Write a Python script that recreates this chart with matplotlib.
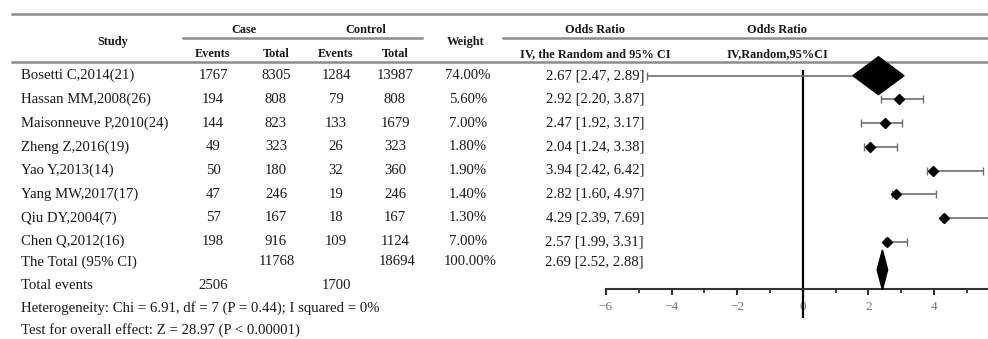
import matplotlib
matplotlib.use("Agg")
import matplotlib.pyplot as plt
from matplotlib.ticker import MultipleLocator

plt.rcParams['font.family'] = ['Liberation Serif', 'DejaVu Serif']

# ---------------- data ----------------
studies = ["Bosetti C,2014(21)", "Hassan MM,2008(26)", "Maisonneuve P,2010(24)",
           "Zheng Z,2016(19)", "Yao Y,2013(14)", "Yang MW,2017(17)",
           "Qiu DY,2004(7)", "Chen Q,2012(16)"]
case_events = [1767, 194, 144, 49, 50, 47, 57, 198]
case_total = [8305, 808, 823, 323, 180, 246, 167, 916]
ctrl_events = [1284, 79, 133, 26, 32, 19, 18, 109]
ctrl_total = [13987, 808, 1679, 323, 360, 246, 167, 1124]
weights = ["74.00%", "5.60%", "7.00%", "1.80%", "1.90%", "1.40%", "1.30%", "7.00%"]
or_est = [2.67, 2.92, 2.47, 2.04, 3.94, 2.82, 4.29, 2.57]
or_lo = [2.47, 2.20, 1.92, 1.24, 2.42, 1.60, 2.39, 1.99]
or_hi = [2.89, 3.87, 3.17, 3.38, 6.42, 4.97, 7.69, 3.31]

# positions of marks as drawn in the picture (plot scale)
plot_est = [2.31, 2.95, 2.51, 2.05, 3.96, 2.84, 4.31, 2.58]
plot_lo = [-4.74, 2.38, 1.78, 1.87, 3.78, 2.71, 4.24, 2.51]
plot_hi = [2.89, 3.66, 3.04, 2.87, 5.49, 4.06, 7.69, 3.17]

total_label = "The Total (95% CI)"
total_case_total = 11768
total_ctrl_total = 18694
total_weight = "100.00%"
total_or = (2.69, 2.52, 2.88)
total_plot = 2.43
total_plot_halfwidth = 0.16
total_case_events = 2506
total_ctrl_events = 1700
heterogeneity = "Heterogeneity: Chi = 6.91, df = 7 (P = 0.44); I squared = 0%"
overall = "Test for overall effect: Z = 28.97 (P < 0.00001)"
tick_values = [-6, -4, -2, 0, 2, 4]

# ---------------- figure ----------------
W, H = 988, 339
fig = plt.figure(figsize=(W / 100, H / 100), dpi=100)
tab = fig.add_axes([0, 0, 1, 1])
tab.set_xlim(0, W)
tab.set_ylim(H, 0)
tab.axis('off')

txt = '#1a1a1a'
rule = '#8c8c8c'
fs = 10.6
hfs = 8.8

# header rules
tab.plot([12, W], [14, 14], color=rule, lw=1.8)
tab.plot([183, 422], [38, 38], color=rule, lw=1.8)
tab.plot([503, W], [38, 38], color=rule, lw=1.8)
tab.plot([12, W], [62, 62], color=rule, lw=1.8)

# headers
hk = dict(fontsize=hfs, fontweight='bold', ha='center', va='center', color=txt)
tab.text(113, 42, "Study", **hk)
tab.text(244, 30, "Case", **hk)
tab.text(366, 30, "Control", **hk)
tab.text(213, 54, "Events", **hk)
tab.text(276, 54, "Total", **hk)
tab.text(336, 54, "Events", **hk)
tab.text(395, 54, "Total", **hk)
tab.text(466, 42, "Weight", **hk)
tab.text(595, 30, "Odds Ratio", **hk)
tab.text(777, 30, "Odds Ratio", **hk)
tab.text(595, 54, "IV, the Random and 95% CI", **hk)
tab.text(777, 54, "IV,Random,95%CI", **hk)

row0, dy = 75.7, 23.7
bk = dict(fontsize=fs, va='center', color=txt)
for i, s in enumerate(studies):
    y = row0 + i * dy
    tab.text(21, y, s, ha='left', **bk)
    tab.text(213, y, str(case_events[i]), ha='center', **bk)
    tab.text(276, y, str(case_total[i]), ha='center', **bk)
    tab.text(336, y, str(ctrl_events[i]), ha='center', **bk)
    tab.text(395, y, str(ctrl_total[i]), ha='center', **bk)
    tab.text(468, y, weights[i], ha='center', **bk)
    tab.text(644, y, f"{or_est[i]:.2f} [{or_lo[i]:.2f}, {or_hi[i]:.2f}]", ha='right', **bk)

yt = row0 + 8 * dy - 3.5
tab.text(21, yt, total_label, ha='left', **bk)
tab.text(277, yt, str(total_case_total), ha='center', **bk)
tab.text(397, yt, str(total_ctrl_total), ha='center', **bk)
tab.text(470, yt, total_weight, ha='center', **bk)
tab.text(644, yt, f"{total_or[0]:.2f} [{total_or[1]:.2f}, {total_or[2]:.2f}]", ha='right', **bk)
tab.text(21, 285.7, "Total events", ha='left', **bk)
tab.text(213, 285.7, str(total_case_events), ha='center', **bk)
tab.text(336, 285.7, str(total_ctrl_events), ha='center', **bk)
tab.text(21, 308, heterogeneity, ha='left', **bk)
tab.text(21, 330, overall, ha='left', **bk)

# ---------------- forest axes ----------------
px0, px1 = 600, W
zero_px, unit = 802.7, 32.8
xmin, xmax = (px0 - zero_px) / unit, (px1 - zero_px) / unit
ytop_idx, ybot_idx = -0.5, 10.3
ytop_px = row0 + ytop_idx * dy
ybot_px = row0 + ybot_idx * dy
ax = fig.add_axes([px0 / W, (H - ybot_px) / H, (px1 - px0) / W, (ybot_px - ytop_px) / H])
ax.set_xlim(xmin, xmax)
ax.set_ylim(ybot_idx, ytop_idx)
ax.patch.set_alpha(0)
for sp in ['top', 'right', 'left']:
    ax.spines[sp].set_visible(False)
axis_row = 9.0
ax.spines['bottom'].set_position(('data', axis_row))
ax.spines['bottom'].set_bounds(-6, xmax)
ax.spines['bottom'].set_color('#333333')
ax.spines['bottom'].set_linewidth(1.5)
ax.set_yticks([])
ax.set_xticks(tick_values)
ax.set_xticklabels([f"{v}".replace('-', '\u2212') for v in tick_values])
ax.xaxis.set_minor_locator(MultipleLocator(1))
ax.tick_params(axis='x', which='major', direction='out', length=4, width=1.5,
               color='#333333', labelsize=9.5, labelcolor='#777777', pad=5)
ax.tick_params(axis='x', which='minor', direction='out', length=3, width=1.3, color='#333333')

# zero line
ax.plot([0, 0], [-0.2, 10.18], color='black', lw=1.6, clip_on=False, zorder=2)

# study CIs and points
for i in range(len(studies)):
    ax.errorbar(plot_est[i], i, xerr=[[plot_est[i] - plot_lo[i]], [plot_hi[i] - plot_est[i]]],
                fmt='none', ecolor='#6e6e6e', elinewidth=1.2, capsize=3, capthick=1.0, zorder=3)
    if i == 0:
        hw, hh = 0.78, 0.80
        ax.fill([plot_est[i] - hw, plot_est[i], plot_est[i] + hw, plot_est[i]],
                [i, i - hh, i, i + hh], color='black', zorder=4, clip_on=False)
    else:
        ax.plot(plot_est[i], i, marker='D', color='black', markersize=5.5, zorder=4)

# total diamond
ty, th = 8.19, 0.84
ax.fill([total_plot - total_plot_halfwidth, total_plot, total_plot + total_plot_halfwidth, total_plot],
        [ty, ty - th, ty, ty + th], color='black', zorder=4, clip_on=False)

fig.savefig("out.png", dpi=100)
